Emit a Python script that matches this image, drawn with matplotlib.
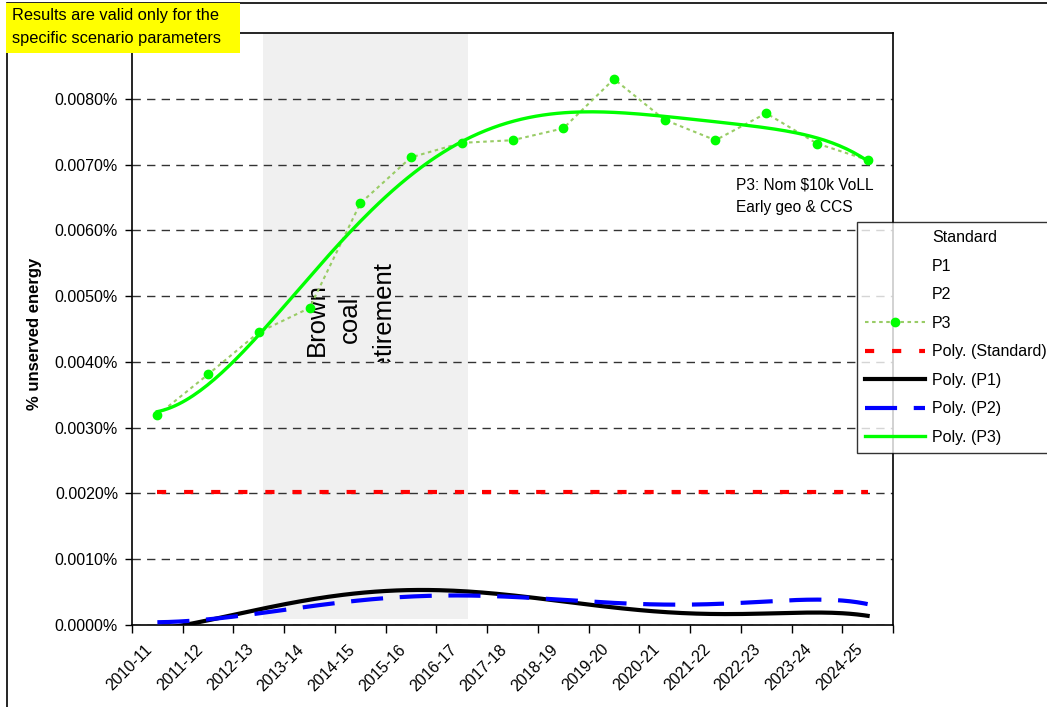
import numpy as np
import matplotlib
matplotlib.use("Agg")
import matplotlib.pyplot as plt
from matplotlib.lines import Line2D
from matplotlib.patches import Rectangle
from matplotlib.ticker import FuncFormatter, FixedLocator
from matplotlib.transforms import ScaledTranslation

plt.rcParams['font.family'] = ['Liberation Sans', 'DejaVu Sans']

years = ['2010-11', '2011-12', '2012-13', '2013-14', '2014-15', '2015-16', '2016-17',
         '2017-18', '2018-19', '2019-20', '2020-21', '2021-22', '2022-23', '2023-24', '2024-25']

# % unserved energy, values in percent
p3 = [0.00319, 0.00381, 0.00445, 0.00482, 0.00641, 0.00711, 0.00733, 0.00737,
      0.00755, 0.00830, 0.00768, 0.00737, 0.00778, 0.00732, 0.00707]

# raw Standard / P1 / P2 points are hidden in the chart, only their trendlines show;
standard = [0.00202, 0.00202, 0.00202, 0.00202, 0.00202, 0.00202, 0.00202, 0.00202,
            0.00202, 0.00202, 0.00202, 0.00202, 0.00202, 0.00202, 0.00202]
p1 = [-0.00007, 0.00008, 0.00023, 0.00038, 0.00049, 0.00053, 0.00053, 0.00044,
      0.00035, 0.00027, 0.00020, 0.00017, 0.00017, 0.00019, 0.00014]
p2 = [0.00004, 0.00009, 0.00018, 0.00027, 0.00038, 0.00043, 0.00046, 0.00043,
      0.00037, 0.00033, 0.00032, 0.00032, 0.00036, 0.00038, 0.00032]

y_ticks = [0.0, 0.001, 0.002, 0.003, 0.004, 0.005, 0.006, 0.007, 0.008]

x = np.arange(len(years))
xf = np.linspace(0, len(years) - 1, 200)


def poly(vals, order=6):
    c = np.polyfit(x, vals, order)
    return np.polyval(c, xf)


fig = plt.figure(figsize=(10.47, 7.07), dpi=100)
ax = fig.add_axes([132 / 1047, 82 / 707, 761 / 1047, 592 / 707])

# shaded retirement period
ax.axvspan(2.08, 6.12, color='#f0f0f0', zorder=0, lw=0)
ax.add_patch(Rectangle((2.08, 0), 4.04, 0.00009, color='white', zorder=0.5, lw=0))

ax.yaxis.grid(True, color='#333333', lw=1, linestyle=(0, (6, 4.5)), zorder=1)
ax.set_axisbelow(True)

hid_std = Line2D([], [], ls='none', label='Standard')
hid_p1 = Line2D([], [], ls='none', label='P1')
hid_p2 = Line2D([], [], ls='none', label='P2')

l_p3, = ax.plot(x, p3, color='#99cc66', lw=1.5, dashes=(1.7, 1.7), marker='o',
                ms=6, mfc='#00ff00', mec='#00ff00', label='P3', zorder=4)
l_std, = ax.plot(xf, poly(standard, 1), color='#ff0000', lw=3,
                 dashes=(2.2, 4.3), dash_capstyle='butt', label='Poly. (Standard)', zorder=3)
l_p1, = ax.plot(xf, poly(p1), color='black', lw=3, label='Poly. (P1)', zorder=3)
l_p2, = ax.plot(xf, poly(p2), color='#0000ff', lw=3, dashes=(7.7, 4),
                dash_capstyle='butt', label='Poly. (P2)', zorder=3.5)
l_p3t, = ax.plot(xf, poly(p3), color='#00ff00', lw=2.4, label='Poly. (P3)', zorder=5)

ax.set_xlim(-0.5, len(years) - 0.5)
ax.set_ylim(0, 0.009)
ax.yaxis.set_major_locator(FixedLocator(y_ticks))
ax.yaxis.set_major_formatter(FuncFormatter(lambda v, p: '%.4f%%' % v))
ax.tick_params(axis='y', direction='out', length=5, width=1, labelsize=11.5, pad=5)

ax.set_xticks(x)
ax.set_xticklabels(years, rotation=45, ha='right', va='top', rotation_mode='anchor',
                   fontsize=11.5)
ax.set_xticks(np.arange(-0.5, len(years), 1), minor=True)
ax.tick_params(axis='x', which='major', length=0, pad=12)
ax.tick_params(axis='x', which='minor', direction='out', length=6, width=1)
shift = ScaledTranslation(-13 / 100, 0, fig.dpi_scale_trans)
for lab in ax.get_xticklabels():
    lab.set_transform(lab.get_transform() + shift)

for s in ax.spines.values():
    s.set_color('black')
    s.set_linewidth(1.2)

fig.text(35 / 1047, 1 - 334 / 707, '% unserved energy', rotation=90, ha='center',
         va='center', fontsize=12, fontweight='bold')

# vertical label, cut off at the bottom of its box
t = ax.text(3.8, 0.00465, 'Brown\ncoal\nretirement', rotation=90, ha='center',
            va='center', fontsize=18.5, multialignment='center', linespacing=1.5,
            zorder=2, clip_on=True)
t.set_clip_path(Rectangle((2.08, 0.00400), 4.04, 0.005, transform=ax.transData))

ax.text(11.4, 0.00652, 'P3: Nom $10k VoLL\nEarly geo & CCS', fontsize=11.2,
        ha='left', va='center', linespacing=1.65, zorder=6)

# outer chart border and note box
fig.add_artist(Rectangle((7 / 1047, -0.1), 1.2, 1 + 0.1 - 3 / 707, transform=fig.transFigure,
                         fill=False, ec='black', lw=1.2))
fig.add_artist(Rectangle((6 / 1047, 1 - 53 / 707), 234 / 1047, 50 / 707,
                         transform=fig.transFigure, fc='#ffff00', ec='none', zorder=5))
fig.text(12 / 1047, 1 - 27 / 707, 'Results are valid only for the\nspecific scenario parameters',
         ha='left', va='center', fontsize=11.8, linespacing=1.6, zorder=6)

leg = fig.legend(handles=[hid_std, hid_p1, hid_p2, l_p3, l_std, l_p1, l_p2, l_p3t],
                 loc='upper left', bbox_to_anchor=(857 / 1047, 1 - 222 / 707),
                 fontsize=11.5, frameon=True, fancybox=False, handlelength=3.75,
                 handletextpad=0.45, labelspacing=0.85, borderpad=0.5, borderaxespad=0)
leg.get_frame().set_edgecolor('black')
leg.get_frame().set_linewidth(1)
leg.set_zorder(10)

fig.savefig('out.png', dpi=100)
